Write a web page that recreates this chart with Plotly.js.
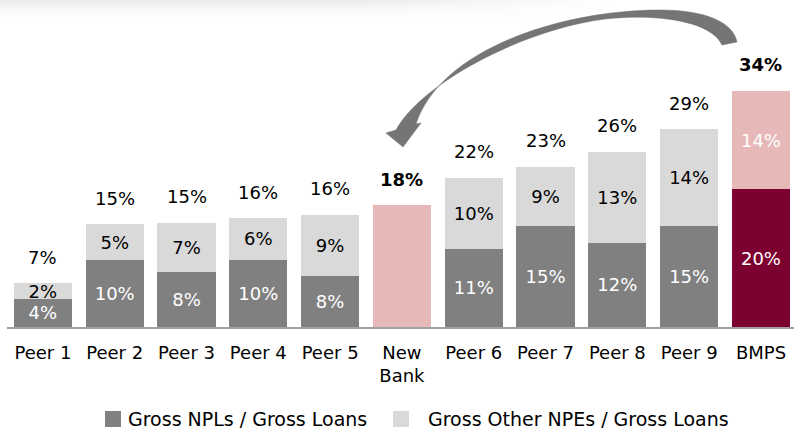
<!DOCTYPE html>
<html>
<head>
<meta charset="utf-8">
<script src="https://cdn.plot.ly/plotly-3.0.1.min.js"></script>
<style>
  html, body { margin: 0; padding: 0; background: #fff; }
  #wrap { position: relative; width: 794px; height: 432px; }
  #shade { position: absolute; left: 0; top: 0; width: 620px; height: 20px;
    background: linear-gradient(to bottom, #e9e9e9 0px, #f6f6f6 8px, #ffffff 18px);
    -webkit-mask-image: linear-gradient(to right, #000 0%, #000 55%, transparent 100%);
    mask-image: linear-gradient(to right, #000 0%, #000 55%, transparent 100%); }
  #chart { position: absolute; left: 0; top: 0; width: 794px; height: 432px; }
</style>
</head>
<body>
<div id="wrap"><div id="shade"></div><div id="chart"></div></div>
<script>
const categories = ['Peer 1','Peer 2','Peer 3','Peer 4','Peer 5','New<br>Bank','Peer 6','Peer 7','Peer 8','Peer 9','BMPS'];
const npl      = [4.1, 9.8, 8.0, 9.8, 7.4, 17.8, 11.4, 14.7, 12.3, 14.7, 20.1];
const otherNpe = [2.3, 5.2, 7.2, 6.1, 9.0, 0.0, 10.4, 8.7, 13.3, 14.2, 14.4];
const nplLabels   = ['4%','10%','8%','10%','8%','','11%','15%','12%','15%','20%'];
const otherLabels = ['2%','5%','7%','6%','9%','','10%','9%','13%','14%','14%'];
const totalLabels = ['7%','15%','15%','16%','16%','18%','22%','23%','26%','29%','34%'];
const seriesNames = ['Gross NPLs / Gross Loans', 'Gross Other NPEs / Gross Loans'];

const FONT = 'DejaVu Sans, Verdana, sans-serif';
const DARK = '#808080', LIGHT = '#D9D9D9', PINK = '#E6B9B8', RED = '#7C0030';

const nplColors = categories.map(c => c === 'BMPS' ? RED : (c.indexOf('New') === 0 ? PINK : DARK));
const otherColors = categories.map(c => c === 'BMPS' ? PINK : LIGHT);
const otherTextColors = categories.map(c => c === 'BMPS' ? '#ffffff' : '#000000');

const traces = [
  { type: 'bar', x: categories, y: npl, name: seriesNames[0], text: nplLabels,
    texttemplate: '%{text}', textposition: 'inside', insidetextanchor: 'middle',
    textangle: 0, constraintext: 'none',
    insidetextfont: { family: FONT, size: 18, color: '#ffffff' },
    marker: { color: nplColors, line: { width: 0 } }, hoverinfo: 'skip' },
  { type: 'bar', x: categories, y: otherNpe, name: seriesNames[1], text: otherLabels,
    texttemplate: '%{text}', textposition: 'inside', insidetextanchor: 'middle',
    textangle: 0, constraintext: 'none',
    insidetextfont: { family: FONT, size: 18, color: otherTextColors },
    marker: { color: otherColors, line: { width: 0 } }, hoverinfo: 'skip' }
];

// plot area geometry (pixels) for converting decoration positions
const L = 7, T = 20, W = 787, H = 307;
const px = (x) => (x - L) / W;
const py = (y) => (T + H - y) / H;
const P = (x, y) => px(x).toFixed(5) + ',' + py(y).toFixed(5);

const annotations = categories.map((c, i) => ({
  x: c, y: npl[i] + otherNpe[i], xref: 'x', yref: 'y',
  text: (c === 'BMPS' || c.indexOf('New') === 0) ? '<b>' + totalLabels[i] + '</b>' : totalLabels[i],
  showarrow: false, yanchor: 'middle', yshift: 26,
  font: { family: FONT, size: 18, color: '#000' }
}));

// manual legend
annotations.push({ xref: 'paper', yref: 'paper', x: px(126), y: py(419), xanchor: 'left', yanchor: 'middle',
  text: seriesNames[0], showarrow: false, font: { family: FONT, size: 19, color: '#000' } });
annotations.push({ xref: 'paper', yref: 'paper', x: px(426), y: py(419), xanchor: 'left', yanchor: 'middle',
  text: seriesNames[1], showarrow: false, font: { family: FONT, size: 19, color: '#000' } });

const arrowPath =
  'M' + P(722, 45) + ' L' + P(737, 42) +
  ' C' + P(733, 22) + ' ' + P(705, 10) + ' ' + P(660, 10) +
  ' C' + P(560, 10) + ' ' + P(440, 50) + ' ' + P(416, 124) +
  ' L' + P(421, 123) + ' L' + P(403, 147) + ' L' + P(386, 133) + ' L' + P(396, 130) +
  ' C' + P(420, 85) + ' ' + P(520, 30) + ' ' + P(605, 19) +
  ' C' + P(660, 13) + ' ' + P(712, 22) + ' ' + P(722, 45) + ' Z';

const shapes = [
  { type: 'path', xref: 'paper', yref: 'paper', path: arrowPath,
    fillcolor: '#757575', line: { color: '#6e6e6e', width: 0.5 } },
  { type: 'rect', xref: 'paper', yref: 'paper', x0: px(105), x1: px(121), y0: py(427), y1: py(411),
    fillcolor: DARK, line: { width: 0 } },
  { type: 'rect', xref: 'paper', yref: 'paper', x0: px(393), x1: px(409), y0: py(427), y1: py(411),
    fillcolor: LIGHT, line: { width: 0 } }
];

const layout = {
  width: 794, height: 432,
  margin: { l: L, r: 0, t: T, b: 432 - T - H, pad: 0 },
  paper_bgcolor: 'rgba(0,0,0,0)', plot_bgcolor: 'rgba(0,0,0,0)',
  barmode: 'stack', bargap: 0.19, showlegend: false,
  font: { family: FONT, size: 18, color: '#000' },
  xaxis: { type: 'category', range: [-0.5, 10.46], showline: true, linecolor: '#a0a0a0', linewidth: 2,
    ticks: '', ticklabelstandoff: 8, showgrid: false, zeroline: false,
    tickfont: { family: FONT, size: 18, color: '#000' }, fixedrange: true },
  yaxis: { range: [0, H / 6.85], visible: false, showgrid: false, zeroline: false, fixedrange: true },
  annotations: annotations,
  shapes: shapes
};

Plotly.newPlot('chart', traces, layout, { staticPlot: true, displayModeBar: false });
</script>
</body>
</html>
